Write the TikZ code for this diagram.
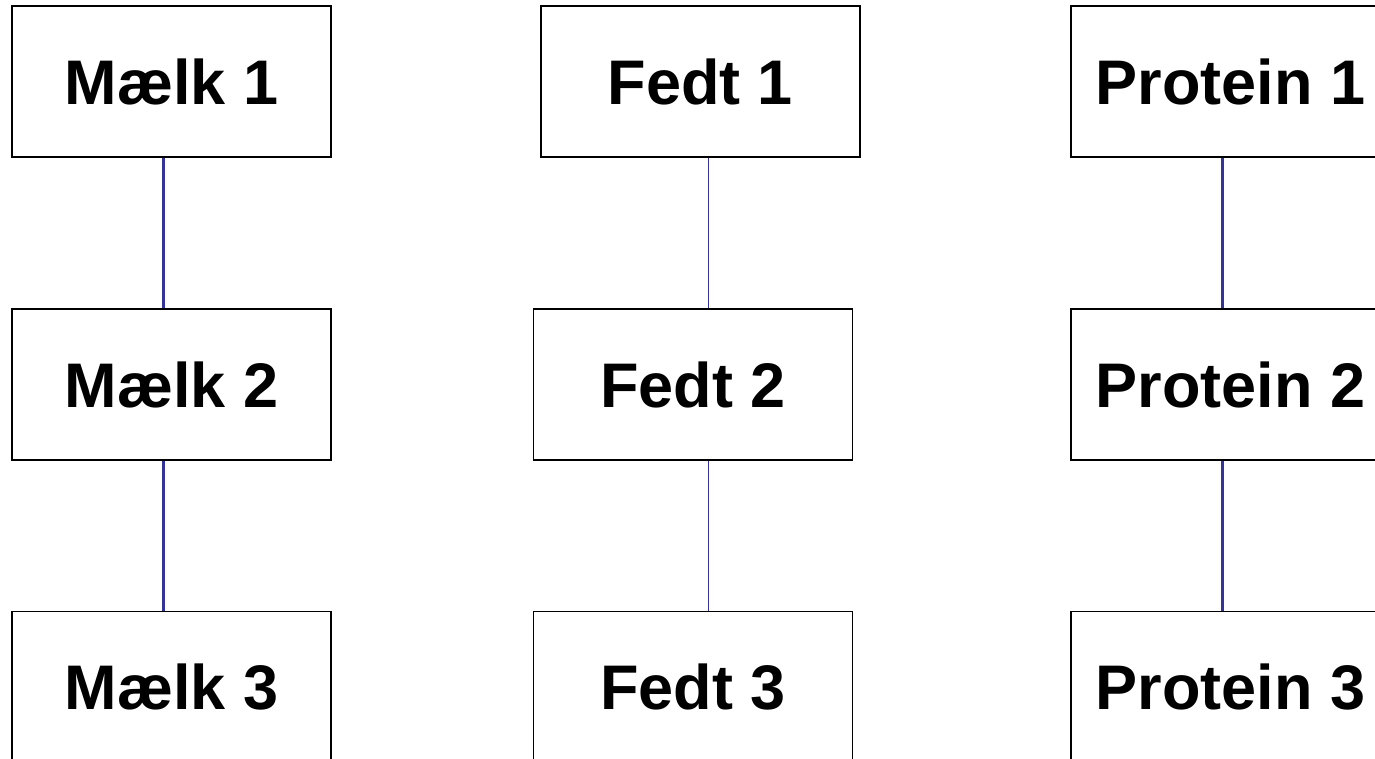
\documentclass[tikz,border=0pt]{standalone}
\usepackage{fontspec}
\setmainfont{Liberation Sans}
\begin{document}
\begin{tikzpicture}[x=1pt,y=-1pt,
  box/.style={draw=black,line width=1.6pt,fill=white,rectangle,minimum width=319pt,minimum height=151pt,inner sep=0pt,font=\bfseries\fontsize{63}{75}\selectfont},
  thick link/.style={draw={rgb,255:red,51;green,51;blue,153},line width=3pt},
  thin link/.style={draw={rgb,255:red,51;green,51;blue,153},line width=1.5pt}]
\useasboundingbox (0,0) rectangle (1375,759);
\node[box] (m1) at (171.5,81.5) {Mælk 1};
\node[box] (m2) at (171.5,384.5) {Mælk 2};
\node[box] (m3) at (171.5,687) {Mælk 3};
\node[box] (f1) at (700.3,81.5) {Fedt 1};
\node[box] (f2) at (692.9,384.5) {Fedt 2};
\node[box] (f3) at (692.9,687) {Fedt 3};
\node[box] (p1) at (1230.5,81.5) {Protein 1};
\node[box] (p2) at (1230.5,384.5) {Protein 2};
\node[box] (p3) at (1230.5,687) {Protein 3};
\coordinate (ml) at (163.5,0);
\coordinate (fl) at (708.7,0);
\coordinate (pl) at (1222.3,0);
\draw[thick link] (m1.south -| ml) -- (m2.north -| ml);
\draw[thick link] (m2.south -| ml) -- (m3.north -| ml);
\draw[thin link] (f1.south -| fl) -- (f2.north -| fl);
\draw[thin link] (f2.south -| fl) -- (f3.north -| fl);
\draw[thick link] (p1.south -| pl) -- (p2.north -| pl);
\draw[thick link] (p2.south -| pl) -- (p3.north -| pl);
\end{tikzpicture}
\end{document}
